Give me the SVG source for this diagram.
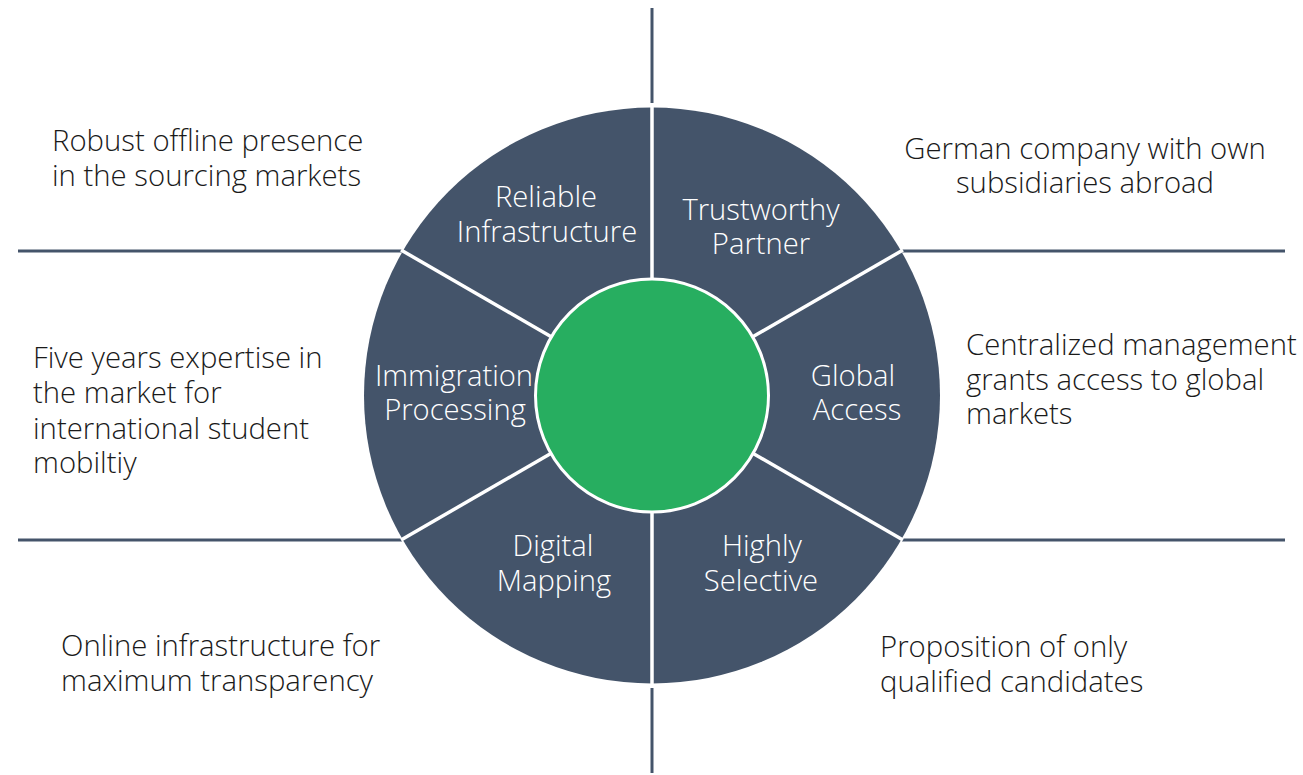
<svg xmlns="http://www.w3.org/2000/svg" width="1303" height="775" viewBox="0 0 1303 775">
<style>
.guide{stroke:#44546A;stroke-width:3;fill:none}
.sep{stroke:#FFFFFF;stroke-width:3.5;fill:none}
.seg{font-family:"Open Sans","Liberation Sans",sans-serif;font-weight:300;font-size:29.2px;fill:#FFFFFF;text-anchor:middle}
.desc{font-family:"Open Sans","Liberation Sans",sans-serif;font-weight:300;font-size:29.3px;fill:#1a1a1a}
</style>
<rect width="1303" height="775" fill="#FFFFFF"/>
<g id="connectors">
<line class="guide" x1="652" y1="8" x2="652" y2="103"/>
<line class="guide" x1="652" y1="688" x2="652" y2="773"/>
<line class="guide" x1="18" y1="251" x2="402" y2="251"/>
<line class="guide" x1="18" y1="540" x2="402" y2="540"/>
<line class="guide" x1="902" y1="251" x2="1285" y2="251"/>
<line class="guide" x1="902" y1="540" x2="1285" y2="540"/>
</g>
<g id="wheel">
<circle cx="652" cy="395.5" r="288" fill="#44546A"/>
<line class="sep" x1="652" y1="395" x2="652" y2="106"/>
<line class="sep" x1="652" y1="395" x2="652" y2="685"/>
<line class="sep" x1="652" y1="395" x2="903" y2="250"/>
<line class="sep" x1="652" y1="395" x2="903" y2="540"/>
<line class="sep" x1="652" y1="395" x2="401" y2="250"/>
<line class="sep" x1="652" y1="395" x2="401" y2="540"/>
</g>
<g id="center">
<circle cx="652" cy="395.5" r="116.5" fill="#27AE60" stroke="#FFFFFF" stroke-width="3"/>
</g>
<g id="seg-reliable"><text class="seg" x="546" y="207">Reliable</text><text class="seg" x="547" y="242">Infrastructure</text></g>
<g id="seg-trustworthy"><text class="seg" x="761" y="220">Trustworthy</text><text class="seg" x="761" y="254">Partner</text></g>
<g id="seg-immigration"><text class="seg" x="454" y="386">Immigration</text><text class="seg" x="455" y="420">Processing</text></g>
<g id="seg-global"><text class="seg" x="853" y="386">Global</text><text class="seg" x="857" y="420">Access</text></g>
<g id="seg-digital"><text class="seg" x="553" y="556">Digital</text><text class="seg" x="554" y="591">Mapping</text></g>
<g id="seg-highly"><text class="seg" x="762" y="556">Highly</text><text class="seg" x="761" y="591">Selective</text></g>
<g id="desc-robust"><text class="desc" x="52" y="151">Robust offline presence</text><text class="desc" x="52" y="186">in the sourcing markets</text></g>
<g id="desc-five"><text class="desc" x="33" y="368">Five years expertise in</text><text class="desc" x="33" y="403">the market for</text><text class="desc" x="33" y="439">international student</text><text class="desc" x="33" y="473">mobiltiy</text></g>
<g id="desc-online"><text class="desc" x="61" y="656">Online infrastructure for</text><text class="desc" x="61" y="691">maximum transparency</text></g>
<g id="desc-german"><text class="desc" x="1085" y="159" text-anchor="middle">German company with own</text><text class="desc" x="1085" y="193" text-anchor="middle">subsidiaries abroad</text></g>
<g id="desc-central"><text class="desc" x="966" y="355">Centralized management</text><text class="desc" x="966" y="390">grants access to global</text><text class="desc" x="966" y="424">markets</text></g>
<g id="desc-proposition"><text class="desc" x="880" y="657">Proposition of only</text><text class="desc" x="880" y="692">qualified candidates</text></g>
</svg>
